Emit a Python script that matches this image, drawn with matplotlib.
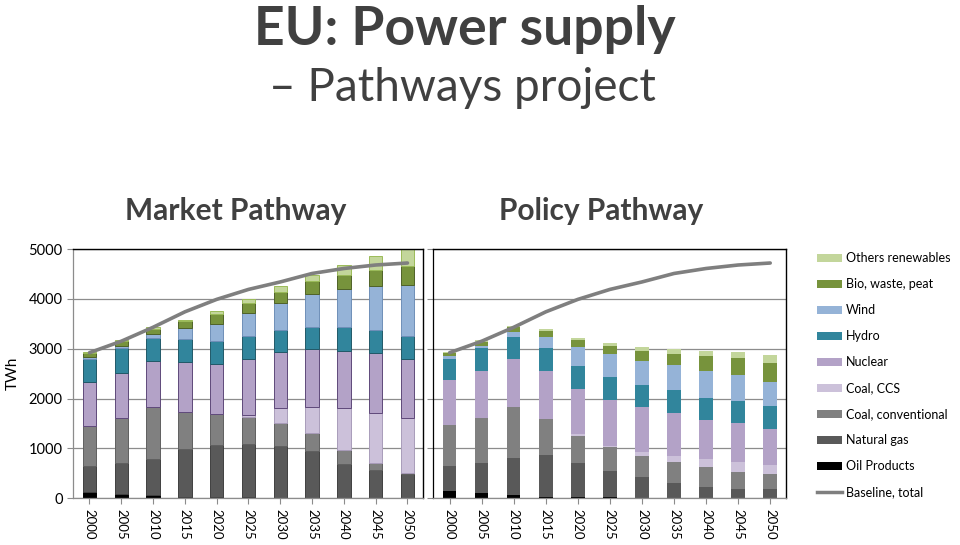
import matplotlib
matplotlib.use("Agg")
import matplotlib.pyplot as plt
from matplotlib.patches import Patch
from matplotlib.lines import Line2D
import numpy as np

plt.rcParams['font.family'] = ['Lato', 'DejaVu Sans']

years = ['2000', '2005', '2010', '2015', '2020', '2025', '2030', '2035', '2040', '2045', '2050']
sources = ['Oil Products', 'Natural gas', 'Coal, conventional', 'Coal, CCS', 'Nuclear',
           'Hydro', 'Wind', 'Bio, waste, peat', 'Others renewables']
colors = ['#000000', '#595959', '#808080', '#ccc1da', '#b3a2c7',
          '#31859c', '#95b3d7', '#77933c', '#c3d69b']
edges = ['#000000', '#404040', '#606060', '#a99cba', '#5f497a',
         '#215968', '#6f8fb8', '#4f6228', '#9bbb59']

# TWh per source, Market Pathway
market = {
    'Oil Products':       [115, 80, 65, 30, 20, 15, 10, 10, 10, 5, 5],
    'Natural gas':        [528, 630, 725, 950, 1050, 1065, 1030, 930, 670, 555, 475],
    'Coal, conventional': [803, 896, 1030, 750, 620, 550, 470, 370, 280, 140, 30],
    'Coal, CCS':          [0, 0, 0, 0, 0, 40, 290, 520, 850, 1010, 1090],
    'Nuclear':            [890, 914, 940, 1010, 1010, 1130, 1130, 1160, 1150, 1200, 1200],
    'Hydro':              [455, 486, 450, 450, 460, 450, 440, 450, 480, 460, 460],
    'Wind':               [35, 44, 90, 220, 330, 460, 550, 650, 750, 890, 1020],
    'Bio, waste, peat':   [93, 100, 100, 140, 200, 200, 220, 270, 290, 320, 380],
    'Others renewables':  [17, 20, 30, 25, 60, 80, 120, 120, 210, 290, 390],
}

# TWh per source, Policy Pathway
policy = {
    'Oil Products':       [140, 100, 60, 30, 20, 15, 10, 10, 10, 5, 5],
    'Natural gas':        [503, 610, 750, 830, 690, 535, 420, 300, 220, 185, 175],
    'Coal, conventional': [817, 900, 1020, 730, 540, 470, 410, 420, 400, 340, 300],
    'Coal, CCS':          [0, 0, 0, 0, 30, 30, 90, 110, 150, 200, 180],
    'Nuclear':            [910, 950, 960, 970, 920, 920, 890, 870, 790, 770, 720],
    'Hydro':              [430, 450, 450, 450, 450, 470, 460, 460, 440, 450, 470],
    'Wind':               [50, 40, 100, 220, 380, 450, 480, 500, 550, 530, 490],
    'Bio, waste, peat':   [60, 90, 90, 130, 140, 160, 190, 220, 290, 340, 380],
    'Others renewables':  [20, 30, 20, 30, 50, 70, 80, 100, 100, 110, 150],
}

baseline = [2920, 3150, 3430, 3740, 3990, 4190, 4340, 4510, 4610, 4680, 4720]

text_col = '#404040'

fig = plt.figure(figsize=(9.6, 5.45), dpi=100)
ax1 = fig.add_axes([0.076, 0.086, 0.365, 0.457])
ax2 = fig.add_axes([0.451, 0.086, 0.368, 0.457])

x = np.arange(len(years))


def draw(ax, data, outlined):
    bottom = np.zeros(len(years))
    for src, c, ec in zip(sources, colors, edges):
        vals = np.array(data[src], dtype=float)
        if outlined:
            ax.bar(x, vals, 0.42, bottom=bottom, color=c, edgecolor=ec, linewidth=0.7, zorder=2)
        else:
            ax.bar(x, vals, 0.42, bottom=bottom, color=c, linewidth=0, zorder=2)
        bottom += vals
    ax.plot(x, baseline, color='#7f7f7f', lw=2.6, zorder=3, solid_capstyle='round')
    ax.set_xlim(-0.52, 10.5)
    ax.set_ylim(0, 5000)
    ax.set_yticks([0, 1000, 2000, 3000, 4000, 5000])
    ax.yaxis.grid(True, color='#8c8c8c', lw=0.9, zorder=0)
    ax.set_axisbelow(True)
    ax.set_xticks(x)
    ax.set_xticklabels(years, rotation=-90, fontsize=9.5, color='black')
    ax.tick_params(axis='x', direction='out', length=4, color='#8c8c8c', pad=4)
    ax.tick_params(axis='y', direction='out', length=4, color='#8c8c8c')
    for s in ['top', 'right']:
        ax.spines[s].set_color('black')
        ax.spines[s].set_linewidth(1.0)
    for s in ['left', 'bottom']:
        ax.spines[s].set_color('#8c8c8c')
        ax.spines[s].set_linewidth(0.9)


draw(ax1, market, True)
draw(ax2, policy, False)
ax1.set_yticklabels(['0', '1000', '2000', '3000', '4000', '5000'], fontsize=10.5, color='black')
ax1.set_ylabel('TWh', fontsize=11, color='black', labelpad=6)
ax2.set_yticklabels([])
ax2.spines['left'].set_color('black')

fig.text(0.484, 0.945, 'EU: Power supply', ha='center', va='center',
         fontsize=38.5, fontweight='bold', color=text_col)
fig.text(0.482, 0.838, '\u2013 Pathways project', ha='center', va='center',
         fontsize=33, color=text_col)
fig.text(0.245, 0.613, 'Market Pathway', ha='center', va='center',
         fontsize=21.5, fontweight='bold', color=text_col)
fig.text(0.626, 0.613, 'Policy Pathway', ha='center', va='center',
         fontsize=21.5, fontweight='bold', color=text_col)

handles = [Patch(facecolor=c, edgecolor='none') for c in colors[::-1]]
labels = sources[::-1]
handles.append(Line2D([0], [0], color='#7f7f7f', lw=2.5))
labels.append('Baseline, total')
fig.legend(handles, labels, loc='upper left', bbox_to_anchor=(0.851, 0.537),
           frameon=False, fontsize=9, handlelength=2.0, handleheight=0.6,
           handletextpad=0.3, labelspacing=1.12, borderaxespad=0, borderpad=0)

fig.savefig('out.png', dpi=100)
